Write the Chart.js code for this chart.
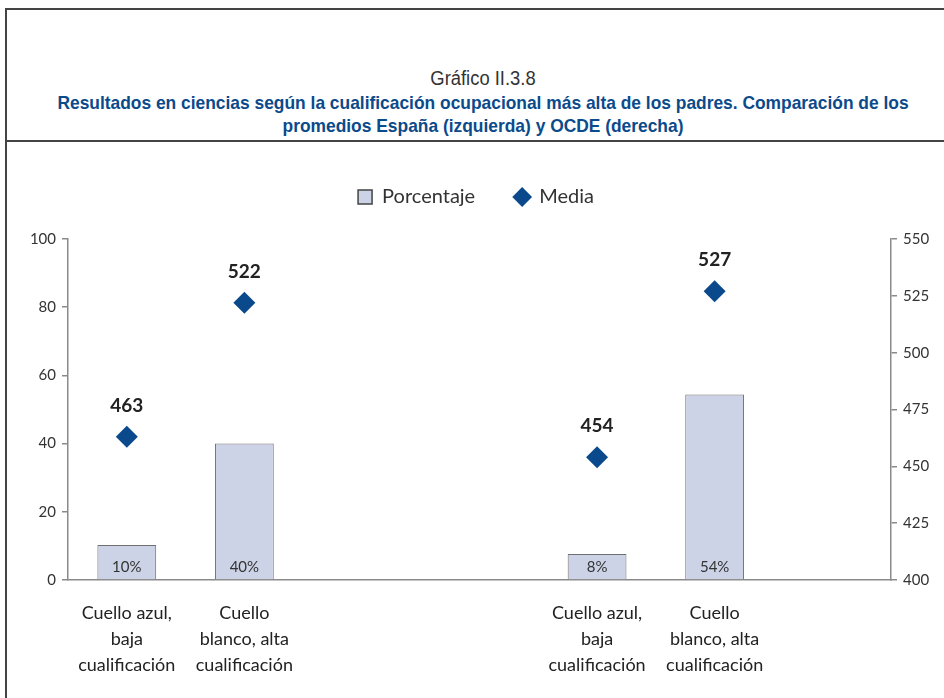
<!DOCTYPE html>
<html>
<head>
<meta charset="utf-8">
<script src="https://cdn.jsdelivr.net/npm/chart.js@4"></script>
<style>
  body { margin: 0; background: #fff; width: 944px; height: 698px; overflow: hidden; position: relative; }
  #frame { position: absolute; left: 5px; top: 8px; width: 960px; height: 700px; border-left: 2px solid #444; border-top: 2px solid #444; }
  #rule { position: absolute; left: 5px; top: 140px; width: 960px; height: 2px; background: #444; }
  #head { position: absolute; left: 6px; top: 66px; width: 954px; text-align: center; font-family: "Liberation Sans", sans-serif; }
  #head .num { font-size: 20px; color: #333; line-height: 25px; transform: scaleX(0.92); }
  #head .sub { font-size: 19px; font-weight: bold; color: #0b4a8b; line-height: 23px; transform: scaleX(0.915); }
  #cv { position: absolute; left: 8px; top: 143px; }
</style>
</head>
<body>
<div id="frame"></div>
<div id="rule"></div>
<div id="head">
  <div class="num">Gráfico II.3.8</div>
  <div class="sub">Resultados en ciencias según la cualificación ocupacional más alta de los padres. Comparación de los<br>promedios España (izquierda) y OCDE (derecha)</div>
</div>
<canvas id="cv" width="936" height="555"></canvas>
<script>
// categories (two empty slots separate Spain and OECD, one trailing)
var categories = [
  ["Cuello azul,", "baja", "cualificación"],
  ["Cuello", "blanco, alta", "cualificación"],
  "", "",
  ["Cuello azul,", "baja", "cualificación"],
  ["Cuello", "blanco, alta", "cualificación"],
  ""
];
var porcentaje = [10.3, 40, null, null, 7.6, 54.4, null];
var porcentajeLabels = ["10%", "40%", "", "", "8%", "54%", ""];
var media = [463, 522, null, null, 454, 527, null];
var leftTicks = [0, 20, 40, 60, 80, 100];
var rightTicks = [400, 425, 450, 475, 500, 525, 550];

var barFill = "#cdd3e6";
var barLine = "#6f6f6f";
var blue = "#0a4a8c";
var axisGrey = "#8a8a8a";

var valueLabels = {
  id: "valueLabels",
  afterDatasetsDraw: function(chart) {
    var ctx = chart.ctx;
    ctx.save();
    ctx.textAlign = "center";
    ctx.textBaseline = "middle";
    var bars = chart.getDatasetMeta(0).data;
    ctx.font = "15px Lato";
    ctx.fillStyle = "#333";
    bars.forEach(function(el, i) {
      if (porcentaje[i] == null) return;
      ctx.fillText(porcentajeLabels[i], el.x, el.base - 12);
    });
    var pts = chart.getDatasetMeta(1).data;
    ctx.font = "bold 19px Lato";
    ctx.fillStyle = "#222";
    pts.forEach(function(el, i) {
      if (media[i] == null) return;
      ctx.fillText(String(media[i]), el.x, el.y - 31);
    });
    ctx.restore();
  }
};

var legendGap = {
  id: "legendGap",
  beforeInit: function(chart) {
    if (!chart.legend) return;
    var fit = chart.legend.fit;
    chart.legend.fit = function() {
      fit.bind(chart.legend)();
      this.height += 22;
    };
  }
};

new Chart(document.getElementById("cv"), {
  type: "bar",
  data: {
    labels: categories,
    datasets: [{
      label: "Porcentaje",
      data: porcentaje,
      yAxisID: "y",
      backgroundColor: barFill,
      borderColor: barLine,
      borderWidth: 1,
      barPercentage: 0.5,
      categoryPercentage: 1,
      order: 1
    }, {
      label: "Media",
      type: "line",
      data: media,
      yAxisID: "y1",
      showLine: false,
      pointStyle: "rectRot",
      pointRadius: 11,
      pointHoverRadius: 11,
      pointBackgroundColor: blue,
      pointBorderColor: blue,
      pointBorderWidth: 0,
      order: 0
    }]
  },
  options: {
    responsive: false,
    animation: false,
    layout: { padding: { top: 4, left: 0, right: 0, bottom: 0 } },
    plugins: {
      tooltip: { enabled: false },
      legend: {
        display: true,
        position: "top",
        labels: {
          usePointStyle: true,
          boxWidth: 14,
          boxHeight: 14,
          padding: 40,
          color: "#333",
          font: { family: "Lato", size: 20 },
          generateLabels: function(chart) {
            return [
              { text: "Porcentaje", pointStyle: "rect", fillStyle: barFill, strokeStyle: "#444", lineWidth: 1.5, datasetIndex: 0, fontColor: "#333" },
              { text: "Media", pointStyle: "rectRot", fillStyle: blue, strokeStyle: blue, lineWidth: 0, datasetIndex: 1, fontColor: "#333" }
            ];
          }
        }
      }
    },
    scales: {
      x: {
        grid: { display: false },
        border: { display: true, color: axisGrey, width: 1.5 },
        ticks: {
          autoSkip: false,
          maxRotation: 0,
          padding: 12,
          color: "#222",
          font: { family: "Lato", size: 18, lineHeight: 1.45 }
        },
        afterFit: function(scale) { scale.height = 118; }
      },
      y: {
        position: "left",
        min: 0,
        max: 100,
        afterBuildTicks: function(scale) { scale.ticks = leftTicks.map(function(v) { return { value: v }; }); },
        grid: { drawOnChartArea: false, color: axisGrey, tickLength: 6, lineWidth: 1.5 },
        border: { display: true, color: axisGrey, width: 1.5 },
        ticks: { padding: 6, color: "#333", font: { family: "Lato", size: 15 } },
        afterFit: function(scale) { scale.width = 60; }
      },
      y1: {
        position: "right",
        min: 400,
        max: 550,
        afterBuildTicks: function(scale) { scale.ticks = rightTicks.map(function(v) { return { value: v }; }); },
        grid: { drawOnChartArea: false, color: axisGrey, tickLength: 6, lineWidth: 1.5 },
        border: { display: true, color: axisGrey, width: 1.5 },
        ticks: { padding: 6, color: "#333", font: { family: "Lato", size: 15 } },
        afterFit: function(scale) { scale.width = 53; }
      }
    }
  },
  plugins: [valueLabels, legendGap]
});
</script>
</body>
</html>
